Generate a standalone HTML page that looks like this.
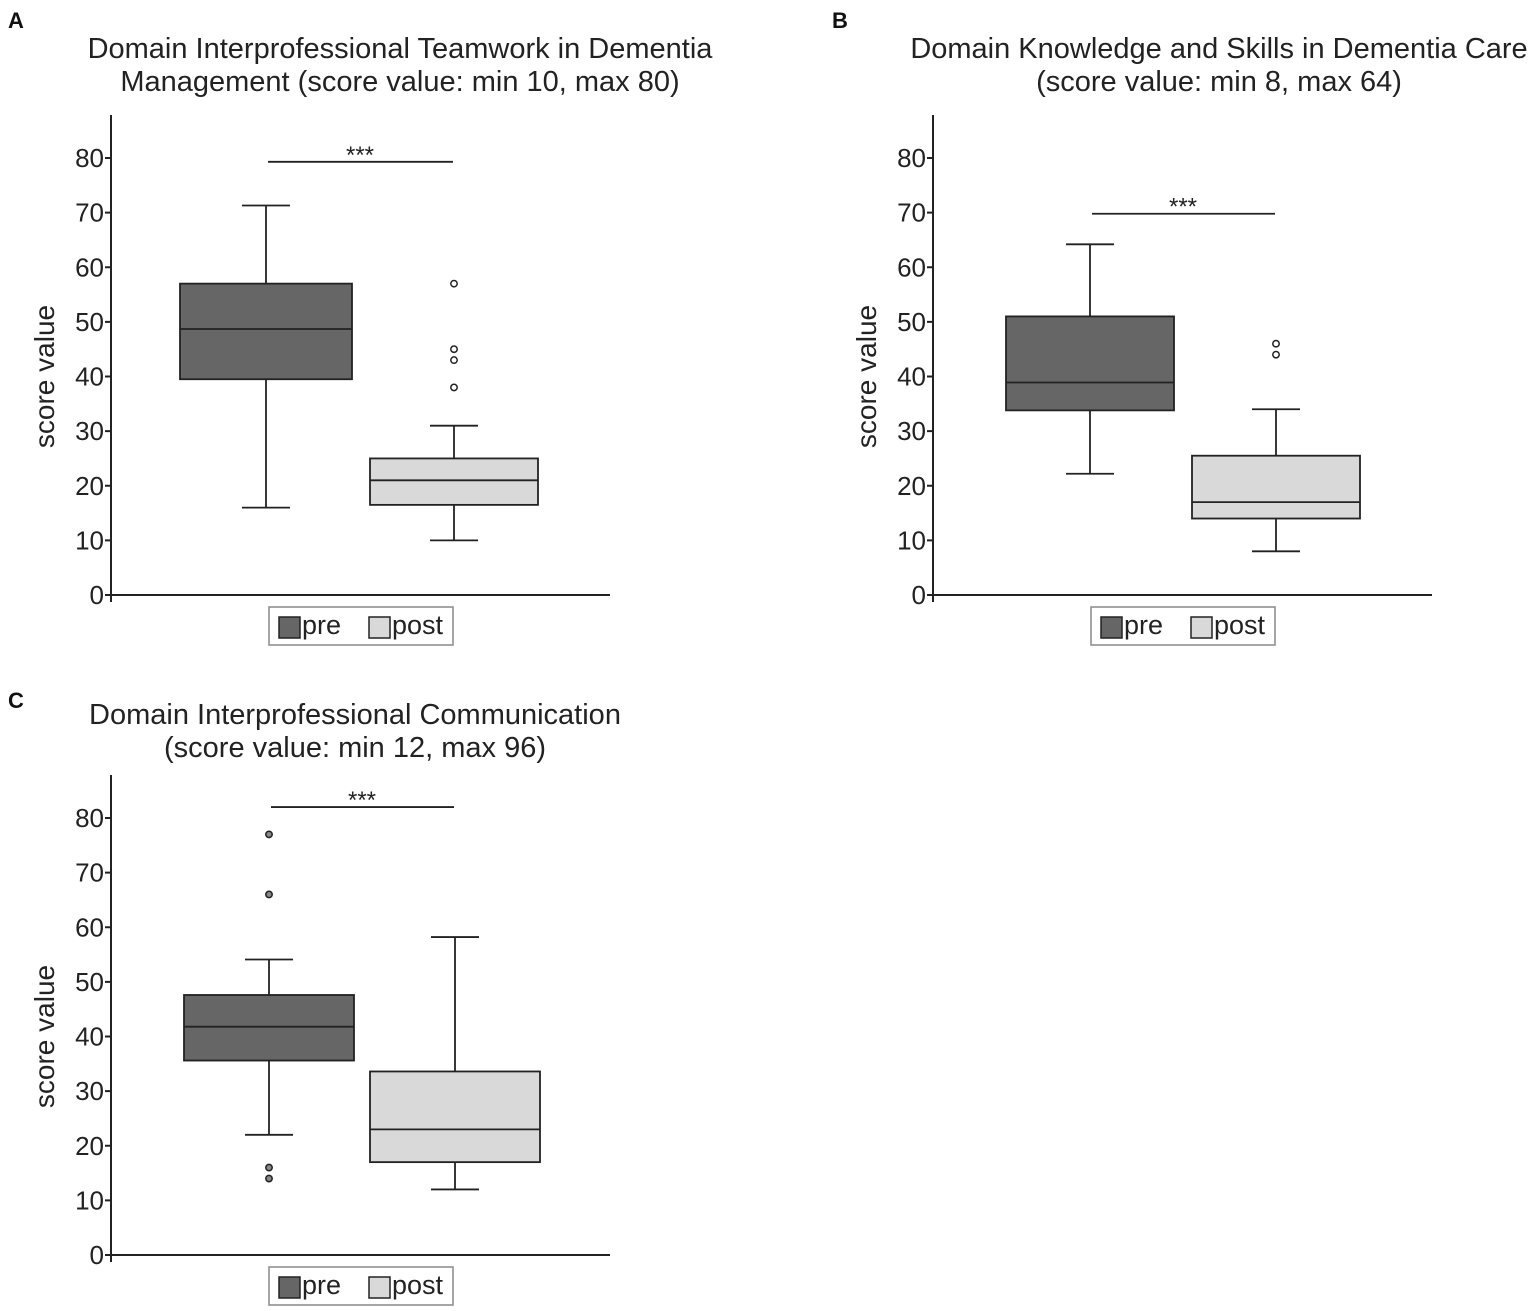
<!DOCTYPE html>
<html><head><meta charset="utf-8">
<style>
body{margin:0;background:#fff;}
svg{display:block;font-family:"Liberation Sans",Arial,sans-serif;}
</style></head>
<body>
<svg id="fig" width="1535" height="1311" viewBox="0 0 1535 1311"></svg>
<script>
const groups = ["pre","post"];
const ticks = [0,10,20,30,40,50,60,70,80];
// [low whisker, q1, median, q3, high whisker]
const statsA_pre = [16, 39.5, 48.7, 57, 71.3];
const statsA_post = [10, 16.5, 21, 25, 31];
const outA_pre = [];
const outA_post = [38, 43, 45, 57];
const sigA = 79.3;
const statsB_pre = [22.2, 33.8, 38.9, 51, 64.2];
const statsB_post = [8, 14, 17, 25.5, 34];
const outB_pre = [];
const outB_post = [44, 46];
const sigB = 69.8;
const statsC_pre = [22, 35.6, 41.8, 47.6, 54.1];
const statsC_post = [12, 17, 23, 33.6, 58.2];
const outC_pre = [77, 66, 16, 14];
const outC_post = [];
const sigC = 82;

const NS="http://www.w3.org/2000/svg";
const svg=document.getElementById('fig');
function mk(tag,attrs,parent,text){const e=document.createElementNS(NS,tag);for(const k in attrs)e.setAttribute(k,attrs[k]);if(text!==undefined)e.textContent=text;(parent||svg).appendChild(e);return e;}

const panels=[
 {id:'a',letter:'A',lx:8,ly:28,title:["Domain Interprofessional Teamwork in Dementia","Management (score value: min 10, max 80)"],tx:400,ty:[58,91],
  ax:111,y0:595,x1:610,top:115,centers:[266,454],halfw:[86,84],stats:[statsA_pre,statsA_post],outs:[outA_pre,outA_post],outFill:'#fff',sig:sigA,legX:269,legY:607,ylab:45},
 {id:'b',letter:'B',lx:832,ly:28,title:["Domain Knowledge and Skills in Dementia Care","(score value: min 8, max 64)"],tx:1219,ty:[58,91],
  ax:933,y0:595,x1:1432,top:115,centers:[1090,1276],halfw:[84,84],stats:[statsB_pre,statsB_post],outs:[outB_pre,outB_post],outFill:'#fff',sig:sigB,legX:1091,legY:607,ylab:867},
 {id:'c',letter:'C',lx:8,ly:708,title:["Domain Interprofessional Communication","(score value: min 12, max 96)"],tx:355,ty:[724,757],
  ax:111,y0:1255,x1:610,top:775,centers:[269,455],halfw:[85,85],stats:[statsC_pre,statsC_post],outs:[outC_pre,outC_post],outFill:'#888',sig:sigC,legX:269,legY:1267,ylab:45}
];
const fills=['#666666','#d9d9d9'];
const scale=5.4625;

panels.forEach(p=>{
  const g=mk('g',{});
  
  
  const y=v=>p.y0-v*scale;
  const L=mk('text',{x:p.lx,y:p.ly,'font-size':22,'font-weight':'bold',fill:'#111'},g,p.letter);
  
  
  p.title.forEach((t,i)=>{
    const T=mk('text',{x:p.tx,y:p.ty[i],'font-size':29,'text-anchor':'middle',fill:'#222'},g,t);
    
    
  });
  const yl=mk('text',{x:0,y:0,'font-size':28,'text-anchor':'middle',fill:'#222',transform:`translate(${p.ylab+9},${y(40)}) rotate(-90)`},g,'score value');
  
  
  mk('line',{x1:p.ax,y1:p.top,x2:p.ax,y2:p.y0+7,stroke:'#222','stroke-width':2},g);
  const xa=mk('line',{x1:p.ax,y1:p.y0,x2:p.x1,y2:p.y0,stroke:'#222','stroke-width':2},g);
  
  
  ticks.forEach(t=>{
    mk('line',{x1:p.ax-6,y1:y(t),x2:p.ax,y2:y(t),stroke:'#222','stroke-width':2},g);
    const tl=mk('text',{x:p.ax-7,y:y(t)+9,'font-size':26,'text-anchor':'end',fill:'#222'},g,String(t));
    
    
  });
  groups.forEach((gr,i)=>{
    const s=p.stats[i],c=p.centers[i],hw=p.halfw[i];
    const bg=mk('g',{},g);
    
    
    mk('line',{x1:c,y1:y(s[0]),x2:c,y2:y(s[1]),stroke:'#222','stroke-width':1.8},bg);
    mk('line',{x1:c,y1:y(s[3]),x2:c,y2:y(s[4]),stroke:'#222','stroke-width':1.8},bg);
    mk('line',{x1:c-24,y1:y(s[0]),x2:c+24,y2:y(s[0]),stroke:'#222','stroke-width':1.8},bg);
    mk('line',{x1:c-24,y1:y(s[4]),x2:c+24,y2:y(s[4]),stroke:'#222','stroke-width':1.8},bg);
    mk('rect',{x:c-hw,y:y(s[3]),width:hw*2,height:y(s[1])-y(s[3]),fill:fills[i],stroke:'#222','stroke-width':1.8},bg);
    mk('line',{x1:c-hw,y1:y(s[2]),x2:c+hw,y2:y(s[2]),stroke:'#222','stroke-width':1.8},bg);
    p.outs[i].forEach(o=>{
      const ci=mk('circle',{cx:c,cy:y(o),r:3.2,fill:p.outFill,stroke:'#222','stroke-width':1.5},bg);
      
      
    });
  });
  const sl=mk('line',{x1:p.centers[0]+2,y1:y(p.sig),x2:p.centers[1]-1,y2:y(p.sig),stroke:'#222','stroke-width':1.8},g);
  
  
  const st=mk('text',{x:(p.centers[0]+p.centers[1])/2,y:y(p.sig)+1,'font-size':24,'text-anchor':'middle',fill:'#222'},g,'***');
  
  
  const lg=mk('g',{},g);
  
  
  mk('rect',{x:p.legX,y:p.legY,width:184,height:38,fill:'#fff',stroke:'#888','stroke-width':1.5},lg);
  mk('rect',{x:p.legX+10,y:p.legY+10,width:21,height:21,fill:fills[0],stroke:'#222','stroke-width':1.5},lg);
  const t1=mk('text',{x:p.legX+33,y:p.legY+27,'font-size':27,fill:'#222'},lg,'pre');
  
  
  mk('rect',{x:p.legX+100,y:p.legY+10,width:21,height:21,fill:fills[1],stroke:'#222','stroke-width':1.5},lg);
  const t2=mk('text',{x:p.legX+123,y:p.legY+27,'font-size':27,fill:'#222'},lg,'post');
  
  
});
</script>
</body></html>
